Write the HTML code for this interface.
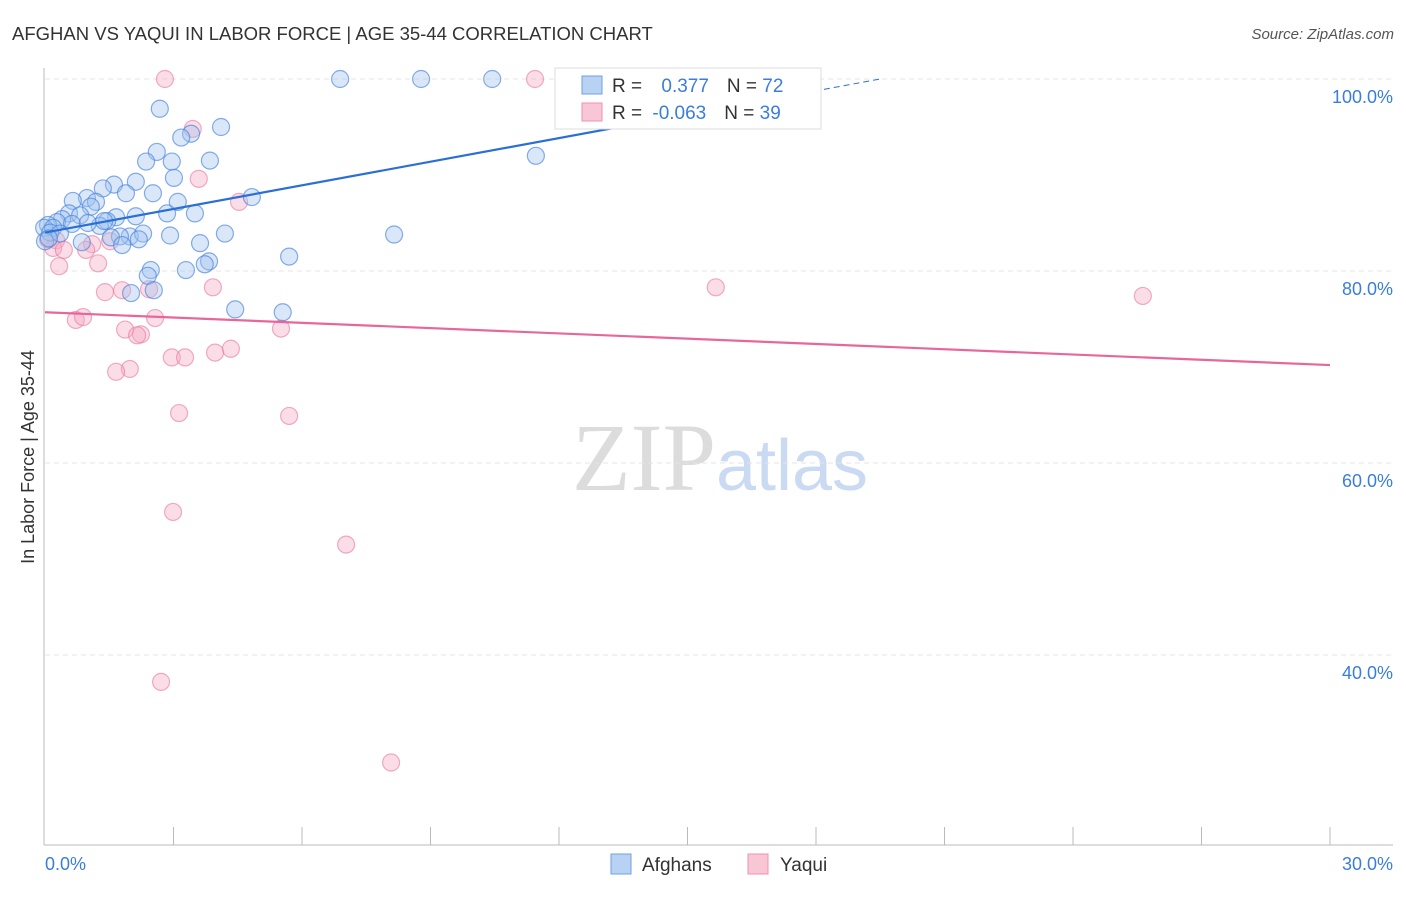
<!DOCTYPE html>
<html><head><meta charset="utf-8"><style>
body{margin:0;background:#fff;font-family:"Liberation Sans",sans-serif;}
svg text{font-family:"Liberation Sans",sans-serif;}
</style></head><body>
<svg id="chart" width="1406" height="892" xmlns="http://www.w3.org/2000/svg">
<text x="12" y="40" font-size="18.5" fill="#333">AFGHAN VS YAQUI IN LABOR FORCE | AGE 35-44 CORRELATION CHART</text>
<text x="1394" y="39" font-size="15" fill="#555" text-anchor="end" font-style="italic">Source: ZipAtlas.com</text>
<text x="720" y="490" font-size="96" text-anchor="middle"><tspan font-family="Liberation Serif" fill="#dcdcdc">ZIP</tspan><tspan fill="#c9daf2" font-size="72">atlas</tspan></text>
<g id="grid"></g>
<g id="axes"></g>
<g id="pts"></g>
<g id="lines"></g>
<g>
<rect x="555" y="68" width="266" height="61" fill="#fff" stroke="#ddd"/>
<rect x="582" y="76" width="20" height="18" fill="#b8d2f4" stroke="#6fa0e0"/>
<rect x="582" y="103" width="20" height="18" fill="#f9c6d6" stroke="#ee92b0"/>
<text x="612" y="92" font-size="19" fill="#333">R = <tspan fill="#3b7dd8" dx="14">0.377</tspan><tspan fill="#333" dx="18">N = </tspan><tspan fill="#3b7dd8">72</tspan></text>
<text x="612" y="119" font-size="19" fill="#333">R = <tspan fill="#3b7dd8" dx="5">-0.063</tspan><tspan fill="#333" dx="18">N = </tspan><tspan fill="#3b7dd8">39</tspan></text>
</g>
<g>
<rect x="611" y="854" width="20" height="20" fill="#b8d2f4" stroke="#6fa0e0"/>
<text x="642" y="871" font-size="19" fill="#333">Afghans</text>
<rect x="748" y="854" width="20" height="20" fill="#f9c6d6" stroke="#ee92b0"/>
<text x="780" y="871" font-size="19" fill="#333">Yaqui</text>
</g>
<text transform="translate(34,457) rotate(-90)" font-size="18" fill="#333" text-anchor="middle">In Labor Force | Age 35-44</text>
</svg>
<script>
const yTicks=[100,80,60,40];
const yTickLabels=["100.0%","80.0%","60.0%","40.0%"];
const afghanX=[6.89,8.78,10.44,2.68,4.11,3.41,3.18,2.61,3.85,2.36,2.96,11.46,3.01,2.12,1.61,1.35,2.52,1.89,4.83,0.98,0.65,1.19,3.10,1.07,2.85,3.50,0.56,0.82,0.40,1.66,2.12,1.45,0.28,0.07,0.63,1.28,-0.02,0.19,1.98,2.29,1.75,2.92,4.20,8.15,0.12,1.54,2.19,0.86,3.62,1.80,5.70,3.83,3.73,3.29,2.47,2.40,2.54,2.01,4.44,5.55,0,0.35,1.00,1.38,0.09];
const afghanY=[100,100,100,96.9,95.0,94.3,93.9,92.4,91.5,91.4,91.4,92.0,89.7,89.3,89.0,88.6,88.1,88.1,87.7,87.6,87.3,87.2,87.2,86.7,86.0,86.0,86.0,85.8,85.4,85.6,85.7,85.2,85.1,84.8,84.9,84.7,84.5,84.5,83.6,83.9,83.6,83.7,83.9,83.8,84.0,83.5,83.3,83.0,82.9,82.7,81.5,81.0,80.7,80.1,80.1,79.5,78.0,77.7,76.0,75.7,83.1,83.9,85.0,85.2,83.4];
const yaquiX=[2.80,11.44,3.45,3.59,4.53,0.26,0.19,0.44,1.10,0.96,1.52,0.33,1.24,1.80,1.40,2.43,3.92,15.66,25.63,0.72,0.89,2.57,1.87,2.24,2.15,5.51,4.34,3.97,2.96,3.27,1.98,1.66,3.13,5.70,2.99,7.03,2.71,8.08,0.07];
const yaquiY=[100,100,94.8,89.6,87.2,83.2,82.4,82.2,82.8,82.2,83.1,80.5,80.8,78.0,77.8,78.1,78.3,78.3,77.4,74.9,75.2,75.1,73.9,73.4,73.3,74.0,71.9,71.5,71.0,71.0,69.8,69.5,65.2,64.9,54.9,51.5,37.2,28.8,83.3];
const afghanTrend=[0,84.0,19.5,100];
const yaquiTrend=[0,75.7,30,70.2];
const NS="http://www.w3.org/2000/svg";
const X=v=>45+v/30*1285, Y=v=>1039-v*9.6;
function mk(p,t,a){const e=document.createElementNS(NS,t);for(const k in a)e.setAttribute(k,a[k]);p.appendChild(e);return e;}
const grid=document.getElementById('grid'),axes=document.getElementById('axes'),pts=document.getElementById('pts'),lines=document.getElementById('lines');
yTicks.forEach((t,i)=>{
 const g=mk(grid,'line',{x1:45,x2:1393,y1:Y(t),y2:Y(t),stroke:'#e4e4e4','stroke-dasharray':'5,4'});
 
 
 const l=mk(axes,'text',{x:1393,y:Y(t)+24,'font-size':18,fill:'#3b7dd8','text-anchor':'end'});l.textContent=yTickLabels[i];
 
 
});
mk(axes,'line',{x1:44,x2:44,y1:68,y2:845,stroke:'#bbb'});
mk(axes,'line',{x1:44,x2:1393,y1:845,y2:845,stroke:'#bbb'});
for(let i=1;i<=10;i++){const t=mk(axes,'line',{x1:X(i*3),x2:X(i*3),y1:827,y2:845,stroke:'#bbb'});
 
 }
const x0=mk(axes,'text',{x:45,y:870,'font-size':18,fill:'#3b7dd8'});x0.textContent='0.0%';


const x1=mk(axes,'text',{x:1393,y:870,'font-size':18,fill:'#3b7dd8','text-anchor':'end'});x1.textContent='30.0%';


yaquiX.forEach((v,i)=>{const c=mk(pts,'circle',{cx:X(v),cy:Y(yaquiY[i]),r:8.5,fill:'rgba(246,170,196,0.4)',stroke:'rgba(232,120,158,0.6)','stroke-width':1.2});
 
 });
afghanX.forEach((v,i)=>{const c=mk(pts,'circle',{cx:X(v),cy:Y(afghanY[i]),r:8.5,fill:'rgba(160,196,240,0.4)',stroke:'rgba(70,130,220,0.65)','stroke-width':1.2});
 
 });
const a=afghanTrend,sl=(a[3]-a[1])/(a[2]-a[0]);
const ab=mk(lines,'line',{x1:X(0),y1:Y(a[1]),x2:X(15.2),y2:Y(a[1]+sl*15.2),stroke:'#2a6fd6','stroke-width':2.2});


const ad=mk(lines,'line',{x1:X(15.2),y1:Y(a[1]+sl*15.2),x2:X(a[2]),y2:Y(a[3]),stroke:'#2a6fd6','stroke-width':1,'stroke-dasharray':'6,4'});


const b=yaquiTrend;
const yl=mk(lines,'line',{x1:X(b[0]),y1:Y(b[1]),x2:X(b[2]),y2:Y(b[3]),stroke:'#e8679a','stroke-width':2.2});


</script>
</body></html>
